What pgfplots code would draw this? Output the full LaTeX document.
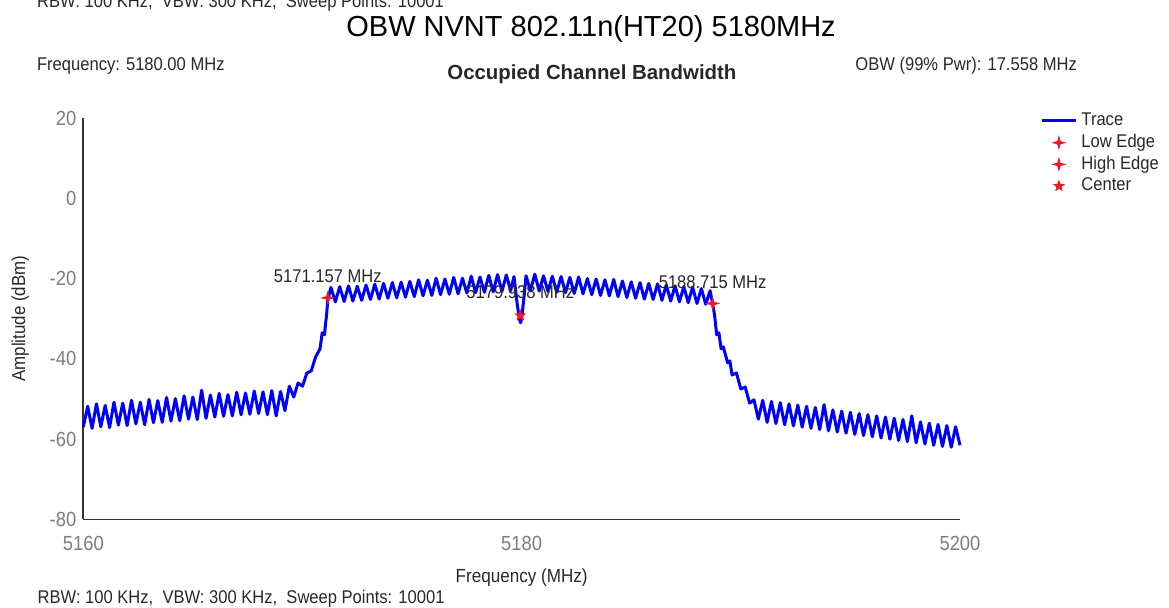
\documentclass[border=0pt]{standalone}
\usepackage{fontspec}
\setmainfont{Liberation Sans}
\newfontfamily\chartfont[FakeStretch=0.9]{Liberation Sans}
\usepackage{pgfplots}
\pgfplotsset{compat=1.18}
\definecolor{tracecol}{RGB}{0,0,255}
\definecolor{edgecol}{RGB}{245,20,40}
\definecolor{txt}{RGB}{40,40,40}
\definecolor{tickgray}{RGB}{125,125,125}

% four point sparkle and five point star
\pgfdeclareplotmark{sparkle}{%
  \pgfpathmoveto{\pgfpointpolar{90}{\pgfplotmarksize}}%
  \pgfpathlineto{\pgfpointpolar{135}{0.3*\pgfplotmarksize}}%
  \pgfpathlineto{\pgfpointpolar{180}{\pgfplotmarksize}}%
  \pgfpathlineto{\pgfpointpolar{225}{0.3*\pgfplotmarksize}}%
  \pgfpathlineto{\pgfpointpolar{270}{\pgfplotmarksize}}%
  \pgfpathlineto{\pgfpointpolar{315}{0.3*\pgfplotmarksize}}%
  \pgfpathlineto{\pgfpointpolar{0}{\pgfplotmarksize}}%
  \pgfpathlineto{\pgfpointpolar{45}{0.3*\pgfplotmarksize}}%
  \pgfpathclose\pgfusepathqfillstroke}
\pgfdeclareplotmark{fstar}{%
  \pgfpathmoveto{\pgfpointpolar{90}{\pgfplotmarksize}}%
  \pgfpathlineto{\pgfpointpolar{126}{0.42*\pgfplotmarksize}}%
  \pgfpathlineto{\pgfpointpolar{162}{\pgfplotmarksize}}%
  \pgfpathlineto{\pgfpointpolar{198}{0.42*\pgfplotmarksize}}%
  \pgfpathlineto{\pgfpointpolar{234}{\pgfplotmarksize}}%
  \pgfpathlineto{\pgfpointpolar{270}{0.42*\pgfplotmarksize}}%
  \pgfpathlineto{\pgfpointpolar{306}{\pgfplotmarksize}}%
  \pgfpathlineto{\pgfpointpolar{342}{0.42*\pgfplotmarksize}}%
  \pgfpathlineto{\pgfpointpolar{18}{\pgfplotmarksize}}%
  \pgfpathlineto{\pgfpointpolar{54}{0.42*\pgfplotmarksize}}%
  \pgfpathclose\pgfusepathqfillstroke}

\newcommand{\chartsmall}{\chartfont\fontsize{9.2}{11}\selectfont}

\begin{document}
\begin{tikzpicture}
\useasboundingbox (0,0) rectangle (584.5pt,-304pt);

\node[anchor=base west, inner sep=0, font=\chartsmall, text=txt] at (18.35pt,-3.65pt) {RBW: 100 KHz,\ \ VBW: 300 KHz,\ \ Sweep Points: 10001};
\node[anchor=base west, inner sep=0, font=\fontsize{14.5}{17}\selectfont] at (173pt,-18.35pt) {OBW NVNT 802.11n(HT20) 5180MHz};
\node[anchor=base west, inner sep=0, font=\chartsmall, text=txt] at (18.35pt,-35.35pt) {Frequency: 5180.00 MHz};
\node[anchor=base west, inner sep=0, font=\bfseries\fontsize{10.2}{12}\selectfont, text=txt] at (223.5pt,-40pt) {Occupied Channel Bandwidth};
\node[anchor=base west, inner sep=0, font=\chartsmall, text=txt] at (427.5pt,-35.5pt) {OBW (99\% Pwr): 17.558 MHz};
\node[anchor=base west, inner sep=0, font=\chartsmall, text=txt] at (18.65pt,-302pt) {RBW: 100 KHz,\ \ VBW: 300 KHz,\ \ Sweep Points: 10001};

\begin{axis}[
  at={(41.65pt,-259.75pt)}, anchor=south west,
  scale only axis, width=438.35pt, height=200.75pt,
  xmin=5160, xmax=5200, ymin=-80, ymax=20,
  axis x line*=bottom, axis y line*=left,
  axis line style={black!80, line width=0.8pt, -},
  xtick={5160,5180,5200}, ytick={-80,-60,-40,-20,0,20},
  major tick length=0pt,
  /pgf/number format/assume math mode=true,
  /pgf/number format/set thousands separator={},
  ticklabel style={font=\chartfont\fontsize{10.2}{12}\selectfont, text=tickgray},
  xticklabel style={yshift=-4.8pt},
  xlabel={Frequency (MHz)}, ylabel={Amplitude (dBm)},
  xlabel style={at={(axis description cs:0.5,-0.156)}, anchor=base, font=\chartfont\fontsize{9.5}{11}\selectfont, text=txt},
  ylabel style={at={(axis description cs:-0.072,0.5)}, anchor=center, font=\chartfont\fontsize{9.4}{11}\selectfont, text=txt},
  legend style={at={(axis description cs:1.0912,1.0192)}, anchor=north west,
    draw=none, fill=none, inner sep=0pt, row sep=0.55pt,
    nodes={inner sep=1pt, text height=6.6pt, text depth=1.7pt, font=\chartsmall, text=txt},
    /tikz/every odd column/.append style={column sep=1pt}},
  legend cell align=left,
  clip=false,
]
\addplot[tracecol, line width=1.5pt, line join=round] coordinates {
(5160.0,-57.0) (5160.2,-51.8) (5160.4,-57.3) (5160.6,-51.2) (5160.8,-56.9)
(5161.0,-51.6) (5161.2,-57.1) (5161.4,-50.8) (5161.6,-56.5) (5161.8,-51.0)
(5162.0,-56.6) (5162.2,-50.3) (5162.4,-56.2) (5162.6,-50.8) (5162.8,-56.4)
(5163.0,-50.1) (5163.2,-55.9) (5163.4,-50.4) (5163.6,-55.8) (5163.8,-49.6)
(5164.0,-55.5) (5164.2,-49.9) (5164.4,-55.4) (5164.6,-49.2) (5164.8,-55.0)
(5165.0,-49.5) (5165.2,-55.1) (5165.4,-47.8) (5165.6,-54.8) (5165.8,-49.0)
(5166.0,-54.5) (5166.2,-48.6) (5166.4,-54.3) (5166.6,-48.9) (5166.8,-54.2)
(5167.0,-48.3) (5167.2,-53.9) (5167.4,-48.5) (5167.6,-53.8) (5167.8,-48.0)
(5168.0,-53.6) (5168.2,-48.2) (5168.4,-53.9) (5168.6,-47.9) (5168.8,-54.2)
(5169.0,-48.1) (5169.2,-52.9) (5169.4,-46.8) (5169.6,-49.5) (5169.8,-46.0)
(5170.0,-46.8) (5170.2,-43.5) (5170.4,-43.0) (5170.6,-39.5) (5170.8,-37.5)
(5170.9,-33.5) (5171.0,-34.0) (5171.1,-29.0) (5171.157,-25.2)
(5171.3,-22.2) (5171.5,-25.8) (5171.7,-22.0) (5171.9,-25.7) (5172.1,-21.8)
(5172.3,-25.6) (5172.5,-21.9) (5172.7,-25.4) (5172.9,-21.6) (5173.1,-25.2)
(5173.3,-21.4) (5173.5,-25.1) (5173.7,-21.2) (5173.9,-24.9) (5174.1,-21.0)
(5174.3,-24.8) (5174.5,-20.9) (5174.7,-24.6) (5174.9,-20.7) (5175.1,-24.5)
(5175.3,-20.3) (5175.5,-24.3) (5175.7,-20.4) (5175.9,-24.2) (5176.1,-19.9)
(5176.3,-24.0) (5176.5,-20.1) (5176.7,-23.9) (5176.9,-19.7) (5177.1,-23.8)
(5177.3,-19.9) (5177.5,-23.6) (5177.7,-19.4) (5177.9,-23.5) (5178.1,-19.6)
(5178.3,-23.4) (5178.5,-19.2) (5178.7,-23.3) (5178.9,-19.0) (5179.1,-23.2)
(5179.3,-19.1) (5179.5,-23.0) (5179.65,-19.5) (5179.8,-26.5) (5179.9,-30.0)
(5179.95,-31.0) (5180.0,-30.0) (5180.1,-25.0) (5180.2,-19.3)
(5180.4,-23.0) (5180.6,-18.9) (5180.8,-23.1) (5181.0,-19.3) (5181.2,-23.2)
(5181.4,-19.4) (5181.6,-23.4) (5181.8,-19.5) (5182.0,-23.5) (5182.2,-19.7)
(5182.4,-23.7) (5182.6,-19.6) (5182.8,-23.8) (5183.0,-20.0) (5183.2,-24.0)
(5183.4,-20.1) (5183.6,-24.2) (5183.8,-20.3) (5184.0,-24.3) (5184.2,-20.2)
(5184.4,-24.5) (5184.6,-20.6) (5184.8,-24.7) (5185.0,-20.8) (5185.2,-24.9)
(5185.4,-21.0) (5185.6,-25.1) (5185.8,-21.2) (5186.0,-25.2) (5186.2,-21.3)
(5186.4,-25.4) (5186.6,-21.6) (5186.8,-25.6) (5187.0,-21.8) (5187.2,-25.8)
(5187.4,-22.0) (5187.6,-26.0) (5187.8,-22.1) (5188.0,-26.2) (5188.2,-22.5)
(5188.4,-26.4) (5188.6,-23.0) (5188.715,-26.3)
(5188.8,-29.0) (5188.9,-34.0) (5189.0,-33.5) (5189.1,-37.5) (5189.2,-37.0)
(5189.4,-41.0) (5189.5,-40.5) (5189.6,-44.0) (5189.8,-43.5) (5190.0,-47.5)
(5190.2,-47.0) (5190.4,-51.0) (5190.6,-50.2) (5190.8,-55.0)
(5191.0,-50.3) (5191.2,-55.8) (5191.4,-50.6) (5191.6,-56.1) (5191.8,-50.9)
(5192.0,-56.4) (5192.2,-51.2) (5192.4,-56.7) (5192.6,-51.5) (5192.8,-57.0)
(5193.0,-51.8) (5193.2,-57.3) (5193.4,-52.1) (5193.6,-57.6) (5193.8,-51.4)
(5194.0,-57.9) (5194.2,-52.7) (5194.4,-58.2) (5194.6,-53.0) (5194.8,-58.5)
(5195.0,-53.3) (5195.2,-58.8) (5195.4,-53.6) (5195.6,-59.1) (5195.8,-53.9)
(5196.0,-59.4) (5196.2,-54.2) (5196.4,-59.7) (5196.6,-54.5) (5196.8,-60.0)
(5197.0,-54.8) (5197.2,-60.3) (5197.4,-55.1) (5197.6,-60.6) (5197.8,-54.2)
(5198.0,-60.9) (5198.2,-55.7) (5198.4,-61.2) (5198.6,-56.0) (5198.8,-61.5)
(5199.0,-56.3) (5199.2,-61.8) (5199.4,-56.6) (5199.6,-62.0) (5199.8,-56.9)
(5200.0,-61.5)
};
\addlegendentry{Trace}
\addplot[only marks, mark=sparkle, mark size=3pt, color=edgecol] coordinates {(5171.157,-24.8)};
\addlegendentry{Low Edge}
\addplot[only marks, mark=sparkle, mark size=3pt, color=edgecol] coordinates {(5188.715,-26.2)};
\addlegendentry{High Edge}
\addplot[only marks, mark=fstar, mark size=2.6pt, color=edgecol] coordinates {(5179.938,-29.2)};
\addlegendentry{Center}

\node[anchor=base, inner sep=0, font=\chartsmall, text=txt, yshift=7.5pt] at (axis cs:5171.157,-24.8) {5171.157 MHz};
\node[anchor=base, inner sep=0, font=\chartsmall, text=txt, yshift=8.5pt] at (axis cs:5179.938,-29.2) {5179.938 MHz};
\node[anchor=base, inner sep=0, font=\chartsmall, text=txt, yshift=7.5pt] at (axis cs:5188.715,-26.2) {5188.715 MHz};
\end{axis}
\end{tikzpicture}
\end{document}
